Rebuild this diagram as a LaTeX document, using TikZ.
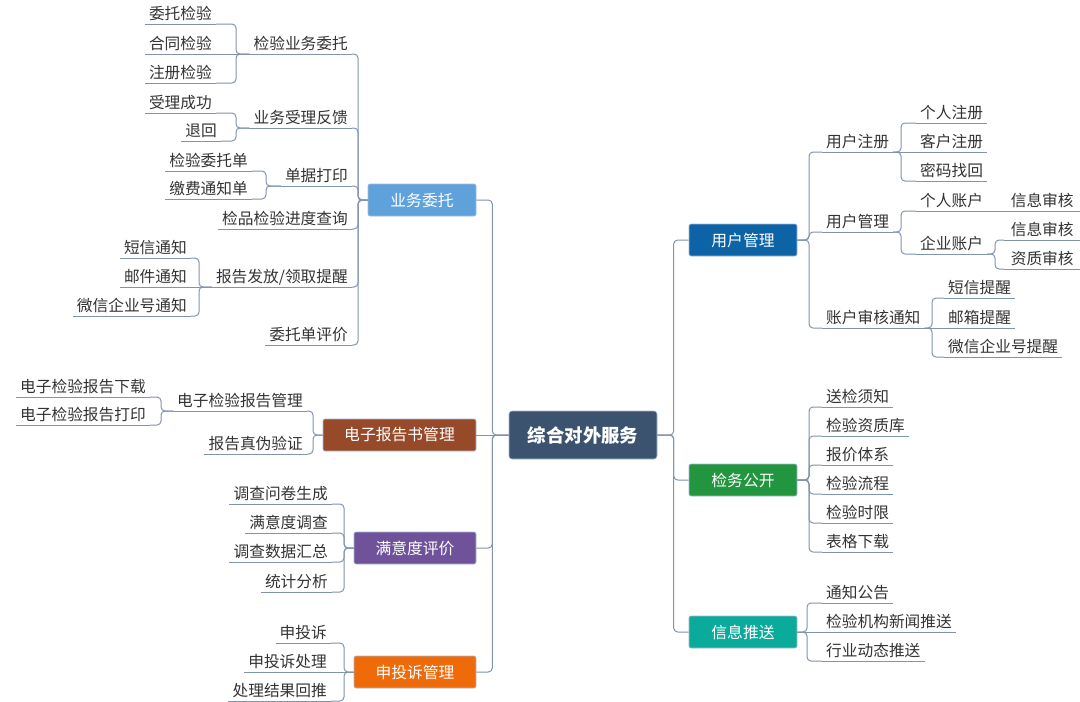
\documentclass[tikz,border=0pt]{standalone}
\usepackage{fontspec}
\usepackage{tikz}
\newfontfamily\cjk{Noto Sans CJK SC}

\definecolor{linec}{HTML}{8194AE}
\definecolor{edgec}{HTML}{A9B9CE}
\definecolor{txtc}{HTML}{333333}
\definecolor{rootc}{HTML}{3C5370}
\definecolor{umc}{HTML}{0C63A6}
\definecolor{jwc}{HTML}{21963E}
\definecolor{xxc}{HTML}{0BAB9B}
\definecolor{ywc}{HTML}{5FA1DB}
\definecolor{dzc}{HTML}{974A29}
\definecolor{myc}{HTML}{70529A}
\definecolor{ssc}{HTML}{EF6B0A}

\tikzset{
  link/.style={draw=linec, line width=1pt, rounded corners=4pt},
  topic/.style={rectangle, rounded corners=2pt, draw=edgec, line width=0.6pt, text=white,
    minimum height=32pt, inner xsep=0pt, font=\cjk\fontsize{15.8}{18}\selectfont},
  lnode/.style={anchor=south east, inner xsep=4pt, inner ysep=2.5pt, text height=12pt,
    text depth=1.5pt, text=txtc, font=\cjk\fontsize{15.7}{18}\selectfont},
  rnode/.style={lnode, anchor=south west},
}

\begin{document}
\begin{tikzpicture}[x=1pt,y=-1pt]
\useasboundingbox (0,0) rectangle (1080,702);

% centre topic
\node[topic, fill=rootc, minimum width=148pt, minimum height=48pt, rounded corners=3pt,
  font=\cjk\bfseries\fontsize{18.4}{22}\selectfont] (root) at (583,435) {综合对外服务};

% main topics
\node[topic, fill=umc, minimum width=108pt] (um) at (743,240) {用户管理};
\node[topic, fill=jwc, minimum width=108pt] (jw) at (743,480) {检务公开};
\node[topic, fill=xxc, minimum width=108pt] (xx) at (743,632) {信息推送};
\node[topic, fill=ywc, minimum width=108pt] (yw) at (422,200) {业务委托};
\node[topic, fill=dzc, minimum width=153pt] (dz) at (399.5,435) {电子报告书管理};
\node[topic, fill=myc, minimum width=122pt] (my) at (415,548) {满意度评价};
\node[topic, fill=ssc, minimum width=122pt] (ss) at (415,672) {申投诉管理};

% 业务委托
\node[lnode] (y1) at (352,54) {检验业务委托};
\node[lnode] (y2) at (352,128) {业务受理反馈};
\node[lnode] (y3) at (352,186) {单据打印};
\node[lnode] (y4) at (352,229) {检品检验进度查询};
\node[lnode] (y5) at (352,287) {报告发放/领取提醒};
\node[lnode] (y6) at (352,345) {委托单评价};
\node[lnode] (y11) at (216,24) {委托检验};
\node[lnode] (y12) at (216,54) {合同检验};
\node[lnode] (y13) at (216,83) {注册检验};
\node[lnode] (y21) at (216,113) {受理成功};
\node[lnode] (y22) at (221,141) {退回};
\node[lnode] (y31) at (252,171) {检验委托单};
\node[lnode] (y32) at (252,199) {缴费通知单};
\node[lnode] (y51) at (191,258) {短信通知};
\node[lnode] (y52) at (191,287) {邮件通知};
\node[lnode] (y53) at (191,316) {微信企业号通知};

% 电子报告书管理
\node[lnode] (d1) at (307,411) {电子检验报告管理};
\node[lnode] (d2) at (307,454) {报告真伪验证};
\node[lnode] (d11) at (150,397) {电子检验报告下载};
\node[lnode] (d12) at (150,425) {电子检验报告打印};

% 满意度评价
\node[lnode] (m1) at (332,504) {调查问卷生成};
\node[lnode] (m2) at (332,533) {满意度调查};
\node[lnode] (m3) at (332,562) {调查数据汇总};
\node[lnode] (m4) at (332,592) {统计分析};

% 申投诉管理
\node[lnode] (s1) at (331,643) {申投诉};
\node[lnode] (s2) at (331,672) {申投诉处理};
\node[lnode] (s3) at (331,701) {处理结果回推};

% 用户管理
\node[rnode] (u1) at (822,152) {用户注册};
\node[rnode] (u2) at (822,232) {用户管理};
\node[rnode] (u3) at (822,328) {账户审核通知};
\node[rnode] (u11) at (916,123) {个人注册};
\node[rnode] (u12) at (916,152) {客户注册};
\node[rnode] (u13) at (916,181) {密码找回};
\node[rnode] (u21) at (916,211) {个人账户};
\node[rnode] (u22) at (916,254) {企业账户};
\node[rnode, minimum width=76pt] (u211) at (1004,211) {信息审核};
\node[rnode, minimum width=76pt] (u221) at (1004,240) {信息审核};
\node[rnode, minimum width=76pt] (u222) at (1004,269) {资质审核};
\node[rnode] (u31) at (944,298) {短信提醒};
\node[rnode] (u32) at (944,328) {邮箱提醒};
\node[rnode] (u33) at (944,357) {微信企业号提醒};

% 检务公开
\node[rnode] (j1) at (822,407) {送检须知};
\node[rnode] (j2) at (822,436) {检验资质库};
\node[rnode] (j3) at (822,465) {报价体系};
\node[rnode] (j4) at (822,494) {检验流程};
\node[rnode] (j5) at (822,523) {检验时限};
\node[rnode] (j6) at (822,552) {表格下载};

% 信息推送
\node[rnode] (x1) at (822,603) {通知公告};
\node[rnode] (x2) at (822,632) {检验机构新闻推送};
\node[rnode] (x3) at (822,661) {行业动态推送};

% underlines
\foreach \n in {y1,y2,y3,y4,y5,y6,y11,y12,y13,y21,y22,y31,y32,y51,y52,y53,
  d1,d2,d11,d12,m1,m2,m3,m4,s1,s2,s3,u1,u2,u3,u11,u12,u13,u21,u22,u211,u221,u222,
  u31,u32,u33,j1,j2,j3,j4,j5,j6,x1,x2,x3}
  \draw[link] (\n.south west) -- (\n.south east);

% centre to main topics
\foreach \c in {um,jw,xx} \draw[link] (\c.west) -- ++(-15,0) |- (root.east);
\foreach \c in {yw,my,ss} \draw[link] (\c.east) -- ++(16,0) |- (root.west);
\draw[link] (dz.east) -- (root.west);

% left side
\foreach \c in {y1,y2,y3,y4,y5,y6} \draw[link] (\c.south east) -- ++(6,0) |- (yw.west);
\foreach \c in {y11,y13} \draw[link] (\c.south east) -- ++(20,0) |- (y1.south west);
\draw[link] (y12.south east) -- (y1.south west);
\draw[link] (y21.south east) -- ++(20,0) |- (y2.south west);
\draw[link] (y22.south east) -- ++(15,0) |- (y2.south west);
\foreach \c in {y31,y32} \draw[link] (\c.south east) -- ++(14,0) |- (y3.south west);
\foreach \c in {y51,y53} \draw[link] (\c.south east) -- ++(8,0) |- (y5.south west);
\draw[link] (y52.south east) -- (y5.south west);
\foreach \c in {d1,d2} \draw[link] (\c.south east) -- ++(6,0) |- (dz.west);
\foreach \c in {d11,d12} \draw[link] (\c.south east) -- ++(11,0) |- (d1.south west);
\foreach \c in {m1,m2,m3,m4} \draw[link] (\c.south east) -- ++(12,0) |- (my.west);
\foreach \c in {s1,s3} \draw[link] (\c.south east) -- ++(13,0) |- (ss.west);
\draw[link] (s2.south east) -- (ss.west);

% right side
\foreach \c in {u1,u2,u3} \draw[link] (\c.south west) -- ++(-13,0) |- (um.east);
\foreach \c in {u11,u13} \draw[link] (\c.south west) -- ++(-15,0) |- (u1.south east);
\draw[link] (u12.south west) -- (u1.south east);
\foreach \c in {u21,u22} \draw[link] (\c.south west) -- ++(-15,0) |- (u2.south east);
\draw[link] (u211.south west) -- (u21.south east);
\foreach \c in {u221,u222} \draw[link] (\c.south west) -- ++(-9,0) |- (u22.south east);
\foreach \c in {u31,u33} \draw[link] (\c.south west) -- ++(-12,0) |- (u3.south east);
\draw[link] (u32.south west) -- (u3.south east);
\foreach \c in {j1,j2,j3,j4,j5,j6} \draw[link] (\c.south west) -- ++(-13,0) |- (jw.east);
\foreach \c in {x1,x3} \draw[link] (\c.south west) -- ++(-15,0) |- (xx.east);
\draw[link] (x2.south west) -- (xx.east);
\end{tikzpicture}
\end{document}
